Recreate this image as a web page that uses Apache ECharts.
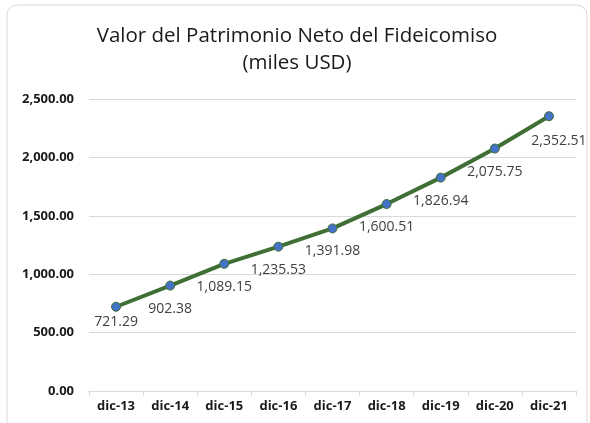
<!DOCTYPE html>
<html>
<head>
<meta charset="utf-8">
<script src="https://cdn.jsdelivr.net/npm/echarts@6/dist/echarts.min.js"></script>
<style>
  html, body { margin: 0; padding: 0; background: #fff; }
  #main { width: 590px; height: 423px; }
</style>
</head>
<body>
<div id="main"></div>
<script>
var categories = ['dic-13', 'dic-14', 'dic-15', 'dic-16', 'dic-17', 'dic-18', 'dic-19', 'dic-20', 'dic-21'];
var values = [721.29, 902.38, 1089.15, 1235.53, 1391.98, 1600.51, 1826.94, 2075.75, 2352.51];

var myChart = echarts.init(document.getElementById('main'));

function fmt(v) {
    return v.toLocaleString('en-US', { minimumFractionDigits: 2, maximumFractionDigits: 2 });
}

// first and last labels sit a little differently in the original
var seriesData = values.map(function (v, i) {
    var item = { value: v };
    if (i === 0) item.label = { distance: 3 };
    if (i === values.length - 1) item.label = { offset: [10, 2] };
    return item;
});

var option = {
    backgroundColor: '#fff',
    textStyle: { fontFamily: 'Open Sans' },
    graphic: [{
        type: 'rect',
        shape: { x: 7, y: 5, width: 580, height: 430, r: 10 },
        style: { fill: 'none', stroke: '#d9d9d9', lineWidth: 1 },
        silent: true
    }],
    title: {
        text: 'Valor del Patrimonio Neto del Fideicomiso\n(miles USD)',
        left: 292,
        textAlign: 'center',
        top: 18,
        textStyle: {
            fontFamily: 'Open Sans',
            fontSize: 20.5,
            fontWeight: 'normal',
            color: '#1a1a1a',
            lineHeight: 27,
            align: 'center'
        }
    },
    grid: { left: 89, right: 14, top: 99, bottom: 32, containLabel: false },
    xAxis: {
        type: 'category',
        data: categories,
        boundaryGap: true,
        axisLine: { lineStyle: { color: '#d9d9d9' } },
        axisTick: { show: true, length: 5, lineStyle: { color: '#d9d9d9' } },
        axisLabel: { color: '#1a1a1a', fontWeight: 'bold', fontSize: 13, margin: 9, fontFamily: 'Open Sans' }
    },
    yAxis: {
        type: 'value',
        min: 0,
        max: 2500,
        interval: 500,
        axisLine: { show: false },
        axisTick: { show: false },
        splitLine: { lineStyle: { color: '#d9d9d9' } },
        axisLabel: {
            color: '#1a1a1a', fontWeight: 'bold', fontSize: 13, margin: 15, fontFamily: 'Open Sans',
            formatter: function (v) { return fmt(v); }
        }
    },
    series: [{
        type: 'line',
        data: seriesData,
        symbol: 'circle',
        symbolSize: 9,
        lineStyle: { color: '#3f6f35', width: 4 },
        itemStyle: { color: '#4472c4', borderColor: '#3f6f35', borderWidth: 1 },
        label: {
            show: true,
            position: 'bottom',
            distance: 11,
            color: '#404040',
            fontSize: 14,
            fontFamily: 'Open Sans',
            formatter: function (p) { return fmt(p.value); }
        },
        animation: false
    }]
};

myChart.setOption(option);

window.addEventListener('resize', function () {
    myChart.resize();
});
</script>
</body>
</html>
